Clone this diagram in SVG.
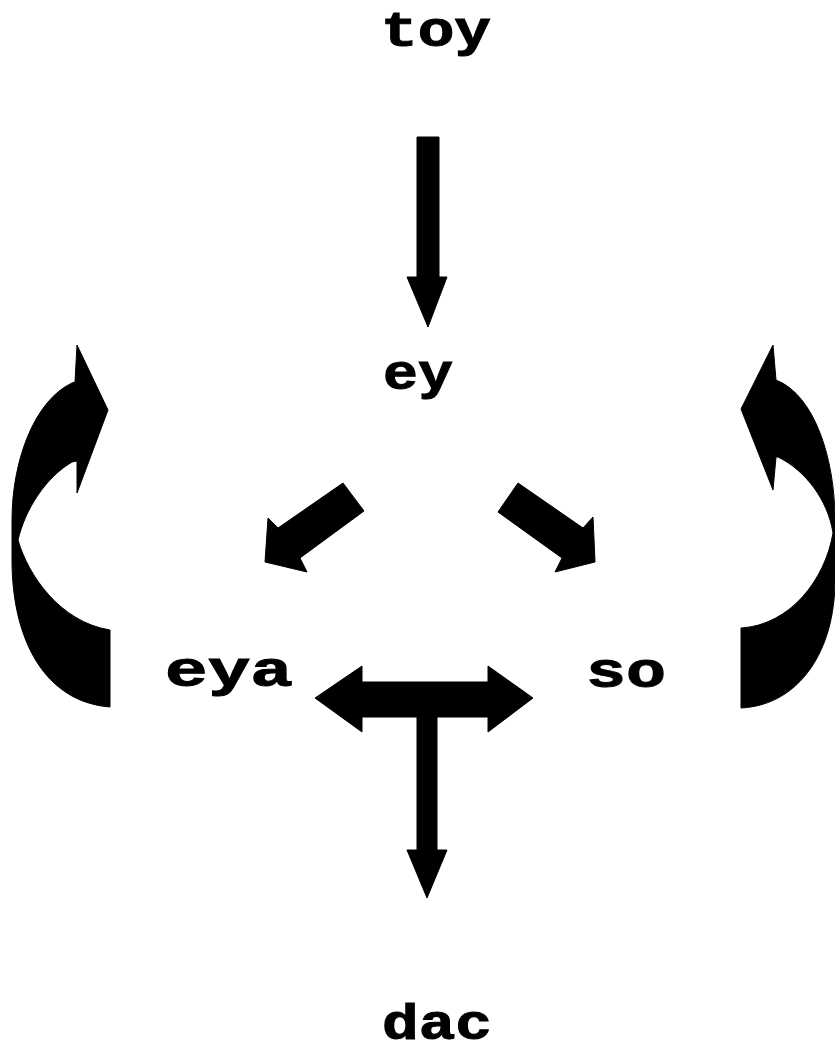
<svg xmlns="http://www.w3.org/2000/svg" width="835" height="1064" viewBox="0 0 835 1064">
<style>
  .lbl { font-family: "Liberation Mono", "DejaVu Sans Mono", monospace; font-weight: bold; font-size: 50px; fill: #000; stroke: #000; stroke-width: 1; text-anchor: middle; }
  .arr { fill: #000; stroke: #000; stroke-width: 1; stroke-linejoin: round; }
</style>
<rect width="835" height="1064" fill="#fff"/>
<g id="connectors">
  <polygon class="arr" points="417,137 439,137 439,277 447,277 428,327 407,277 417,277"/>
  <polygon class="arr" points="343,483 364,511 300,558 307,572 265,562 268,518 278,528"/>
  <polygon class="arr" points="518,483 583,528 593,517 595,562 555,572 562,558 498,512"/>
  <polygon class="arr" points="315,698 362,666 362,682 488,682 488,666 533,698 488,732 488,717 362,717 362,732"/>
  <polygon class="arr" points="417,710 437,710 437,850 447,850 427,898 407,850 417,850"/>
  <path class="arr" d="M77,345 L108,410 L77,493 L77,461 L72,462 C45,478 25,510 18,540 C28,575 60,622 110,630 L110,707 C45,702 12,640 12,560 L12,520 C12,460 35,400 72,383 L75,382 Z"/>
  <path class="arr" d="M773,345 L741,409 L773,490 L776,457 L778,457 C805,470 828,500 833,533 C825,580 790,625 741,628 L741,708 C800,705 835,650 835,580 L835,520 C835,460 815,395 776,380 Z"/>
</g>
<g id="node-toy"><text class="lbl" x="436" y="46" textLength="110" lengthAdjust="spacingAndGlyphs">toy</text></g>
<g id="node-ey"><text class="lbl" x="418" y="389" textLength="70" lengthAdjust="spacingAndGlyphs">ey</text></g>
<g id="node-eya"><text class="lbl" x="229" y="686" textLength="128" lengthAdjust="spacingAndGlyphs">eya</text></g>
<g id="node-so"><text class="lbl" x="626" y="687" textLength="80" lengthAdjust="spacingAndGlyphs">so</text></g>
<g id="node-dac"><text class="lbl" x="437" y="1039" textLength="110" lengthAdjust="spacingAndGlyphs">dac</text></g>
</svg>
